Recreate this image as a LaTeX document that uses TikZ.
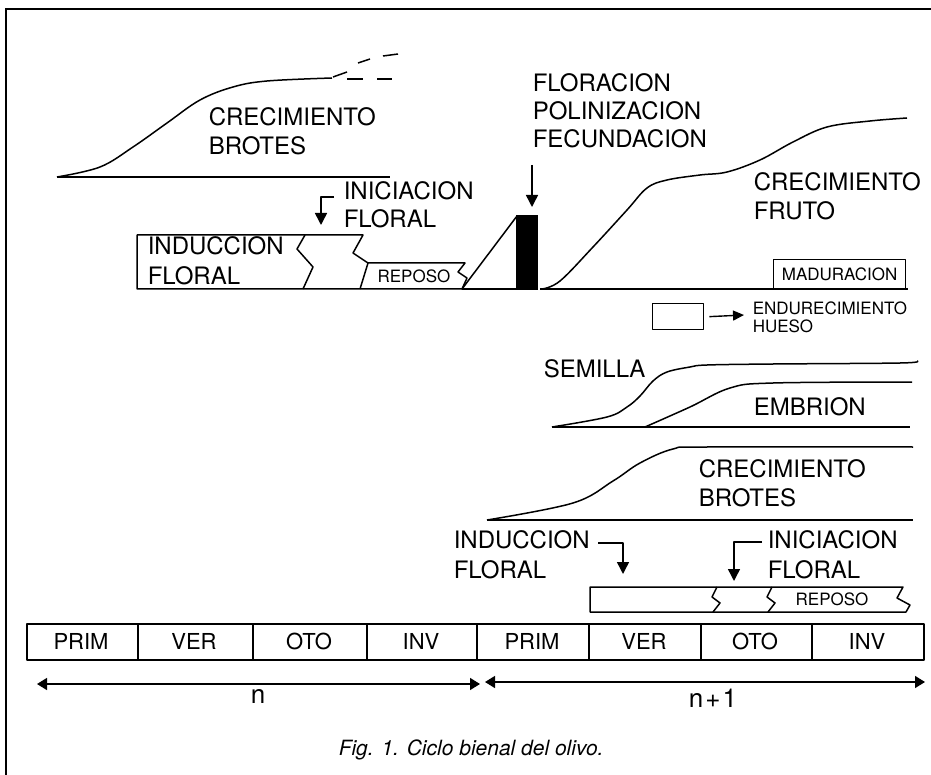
\documentclass[tikz,border=0pt]{standalone}
\usepackage{fontspec}
\setmainfont{TeX Gyre Heros}
\usetikzlibrary{arrows.meta}
\begin{document}
\begin{tikzpicture}[x=1pt,y=-1pt, line width=1.5pt, line join=round,
  big/.style={font=\fontsize{24}{28}\selectfont, inner sep=0pt, anchor=base west},
  sm/.style={font=\fontsize{17}{20}\selectfont, inner sep=0pt, anchor=base},
  smw/.style={font=\fontsize{17}{20}\selectfont, inner sep=0pt, anchor=base west},
  season/.style={font=\fontsize{22}{26}\selectfont, inner sep=0pt, anchor=base},
  tipa/.style={-{Triangle[length=12pt,width=12pt]}},
  tipb/.style={{Triangle[length=10pt,width=12pt]}-{Triangle[length=10pt,width=12pt]}},
  tipc/.style={-{Triangle[length=11pt,width=10pt]}},
  cell/.style={draw, line width=1.5pt, minimum height=36pt, inner sep=0pt, anchor=north west}
]
\useasboundingbox (0,0) rectangle (931,775);
% frame
\draw[line width=1.3pt] (5,9) -- (931,9);
\draw[line width=1.3pt] (6,9) -- (6,775);

% ---- shoot growth, year n
\draw plot[smooth, tension=0.6] coordinates {(57,177) (100,167) (133,147) (167,123) (200,100) (233,87) (267,81) (332,78)};
\draw (333,77) -- (347,72);
\draw (358,63) -- (370,59);
\draw (383,56) -- (398,54);
\draw (347,79) -- (363,79);
\draw (377,79) -- (392,79);
\draw (57,177) -- (390,177);
\node[big] (cb1) at (208,126) {CRECIMIENTO};
\node[big] (cb2) at (208,155) {BROTES};

% ---- floral initiation, year n
\node[big] (ini1) at (343,200) {INICIACION};
\node[big] (ini2) at (343,228) {FLORAL};
\coordinate (ini1s) at (334,197);
\coordinate (ini1t) at (321,225);
\draw[tipa] (ini1s) -- (ini1t |- ini1s) -- (ini1t);

% ---- induction / repose box, year n
\draw (137,235) -- (363,235) -- (353,253) -- (368,263) -- (465,263) -- (458,272) -- (467,278) -- (462,289) -- (137,289) -- cycle;
\draw (305,235) -- (297,249) -- (313,267) -- (303,289);
\draw (368,263) -- (360,289);
\draw (462,289) -- (517,216) -- (517,289) -- cycle;
\fill (516,215) rectangle (538,290);
\draw (462,289) -- (538,289);
\node[big] (ind1) at (147,255) {INDUCCION};
\node[big] (ind2) at (147,285) {FLORAL};
\node[sm] (rep1) at (414,283) {REPOSO};

% ---- flowering
\node[big] (flo1) at (532,92) {FLORACION};
\node[big] (flo2) at (532,120) {POLINIZACION};
\node[big] (flo3) at (532,148) {FECUNDACION};
\coordinate (flos) at (532,165);
\coordinate (flot) at (532,207);
\draw[tipa] (flos) -- (flot);

% ---- fruit growth
\draw plot[smooth, tension=0.6] coordinates {(542,289) (560,281) (593,247) (627,210) (647,188) (667,180) (700,175) (727,172) (760,160) (793,142) (827,127) (870,121) (907,118)};
\draw (540,289) -- (908,289);
\node[big] (cf1) at (753,191) {CRECIMIENTO};
\node[big] (cf2) at (753,220) {FRUTO};
\node[draw, line width=1.3pt, minimum width=132pt, minimum height=29pt, inner sep=0pt, anchor=south west,
      font=\fontsize{17}{20}\selectfont] (mad) at (773,289) {MADURACION};

% ---- stone hardening legend
\node[draw, line width=1.3pt, minimum width=51pt, minimum height=26pt, inner sep=0pt, anchor=north west] (hue) at (652,303) {};
\node[smw] (end1) at (752,315) {ENDURECIMIENTO};
\node[smw] (end2) at (752,333) {HUESO};
\coordinate (endt) at (744,315);
\draw[tipc, line width=1.4pt] ([xshift=5pt]hue.east) -- (endt);

% ---- seed and embryo
\draw plot[smooth, tension=0.6] coordinates {(552,427) (607,417) (627,407) (640,396) (653,381) (667,372) (690,367) (707,365) (773,364) (900,363) (917,361)};
\draw plot[smooth, tension=0.6] coordinates {(645,427) (690,407) (730,388) (773,383) (912,382)};
\draw (552,427) -- (910,427);
\node[big] (sem) at (543,377) {SEMILLA};
\node[big] (emb) at (753,415) {EMBRION};

% ---- shoot growth, year n+1
\draw plot[smooth, tension=0.6] coordinates {(487,520) (573,503) (613,481) (640,463) (673,449) (707,447) (913,447)};
\draw (487,520) -- (913,520);
\node[big] (cb3) at (698,477) {CRECIMIENTO};
\node[big] (cb4) at (698,506) {BROTES};

% ---- induction and initiation, year n+1
\node[big] (ind3) at (453,548) {INDUCCION};
\node[big] (ind4) at (453,578) {FLORAL};
\coordinate (ind3s) at (598,543);
\coordinate (ind3t) at (623,574);
\draw[tipa] (ind3s) -- (ind3t |- ind3s) -- (ind3t);
\node[big] (ini3) at (767,548) {INICIACION};
\node[big] (ini4) at (767,578) {FLORAL};
\coordinate (ini3s) at (762,542);
\coordinate (ini3t) at (734,581);
\draw[tipa] (ini3s) -- (ini3t |- ini3s) -- (ini3t);

\draw (590,587) -- (903,587) -- (897,598) -- (910,605) -- (906,612) -- (590,612) -- cycle;
\draw (717,587) -- (712,597) -- (720,603) -- (713,612);
\draw (772,587) -- (767,597) -- (775,603) -- (768,612);
\node[sm] (rep2) at (832,605) {REPOSO};

% ---- seasons
\node[cell, minimum width=111pt] (s1) at (26,623) {};
\node[cell, minimum width=115pt] (s2) at (137,623) {};
\node[cell, minimum width=114pt] (s3) at (252,623) {};
\node[cell, minimum width=110pt] (s4) at (366,623) {};
\node[cell, minimum width=112pt] (s5) at (476,623) {};
\node[cell, minimum width=112pt] (s6) at (588,623) {};
\node[cell, minimum width=111pt] (s7) at (700,623) {};
\node[cell, minimum width=112pt] (s8) at (811,623) {};
\node[season] (t1) at (81,649) {PRIM};
\node[season] (t2) at (194,649) {VER};
\node[season] (t3) at (309,649) {OTO};
\node[season] (t4) at (421,649) {INV};
\node[season] (t5) at (532,649) {PRIM};
\node[season] (t6) at (644,649) {VER};
\node[season] (t7) at (755,649) {OTO};
\node[season] (t8) at (867,649) {INV};

% ---- years
\coordinate (ya) at (37,684);
\coordinate (yb) at (480,684);
\coordinate (yc) at (485,682);
\coordinate (yd) at (925,682);
\draw[tipb, line width=1.4pt] (ya) -- (yb);
\draw[tipb, line width=1.4pt] (yc) -- (yd);
\node[font=\fontsize{26}{30}\selectfont, inner sep=0pt, anchor=base] (yn) at (258,703) {n};
\node[font=\fontsize{26}{30}\selectfont, inner sep=0pt, anchor=base] (yn1) at (713,707) {n\kern2pt+\kern2pt1};

% ---- caption
\node[font=\fontsize{21}{25}\selectfont\itshape, inner sep=0pt, anchor=base west] (cap) at (338,755) {Fig. 1. Ciclo bienal del olivo.};
\end{tikzpicture}
\end{document}
